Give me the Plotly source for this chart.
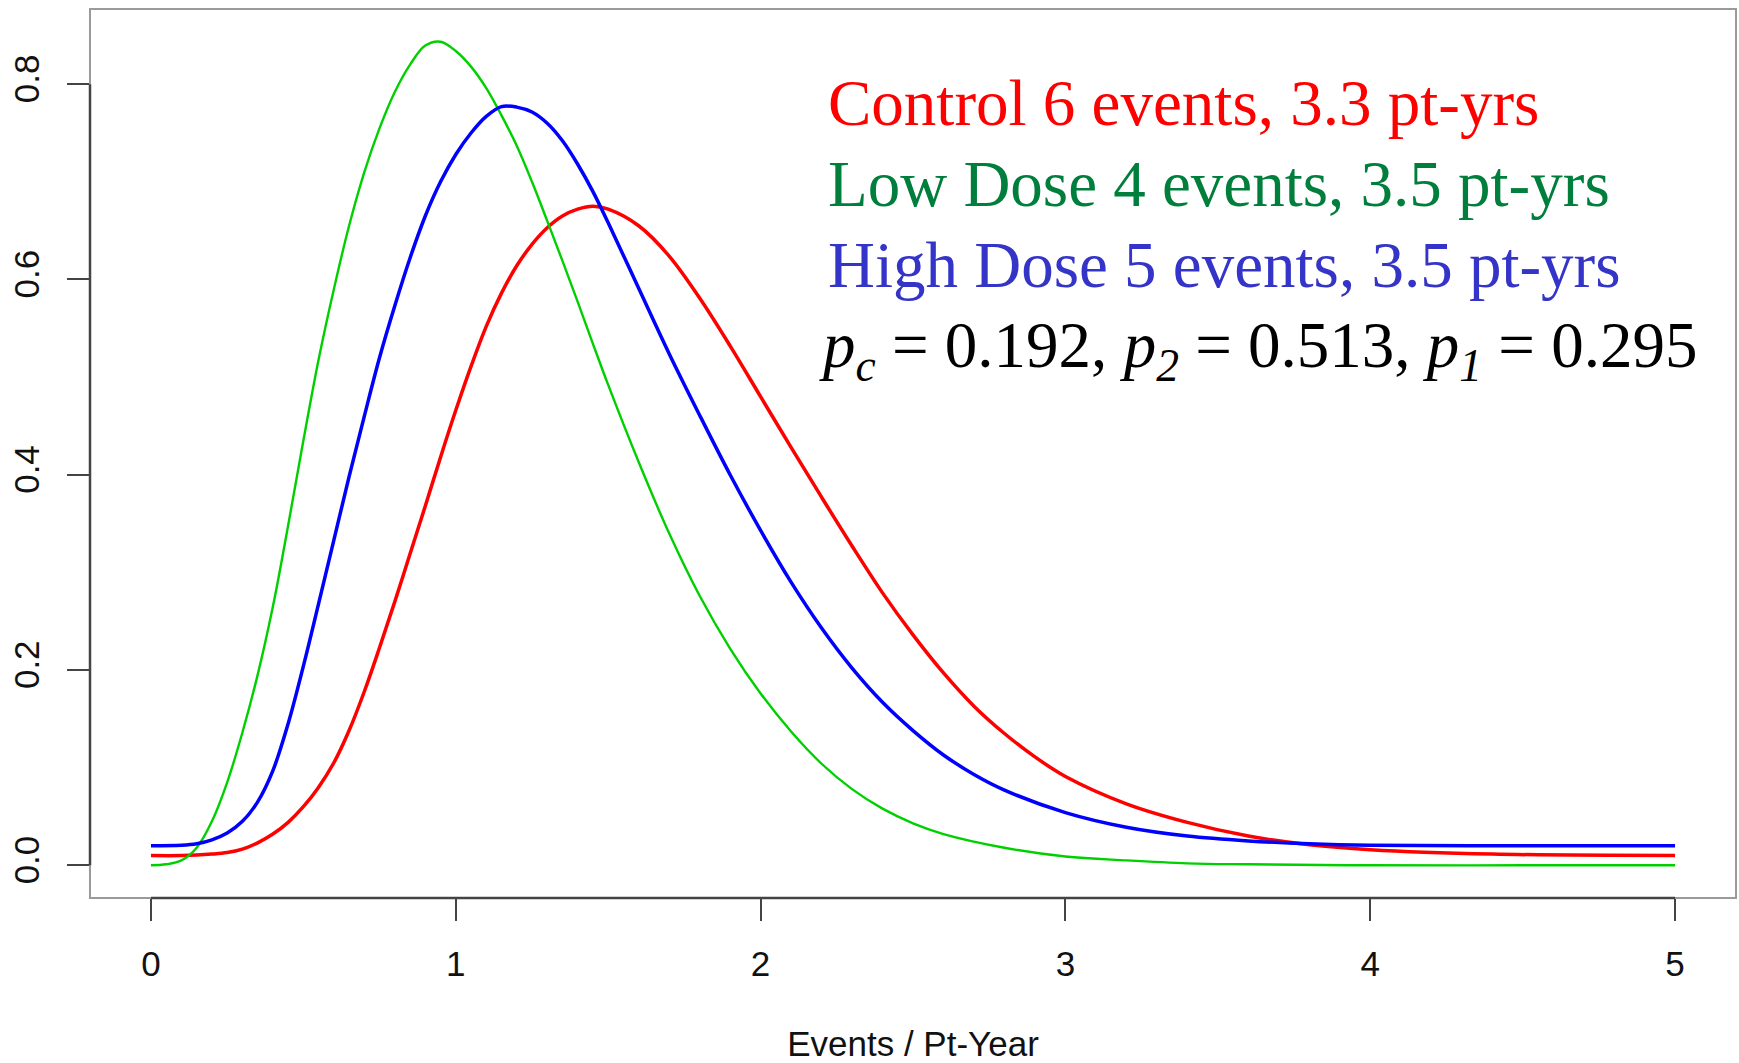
import plotly.graph_objects as go

# ---- data ----
control_x = [0, 0.1, 0.2, 0.25, 0.3, 0.35, 0.4, 0.45, 0.5, 0.55, 0.6, 0.65, 0.7, 0.75, 0.8,
             0.85, 0.9, 0.95, 1.0, 1.05, 1.1, 1.15, 1.2, 1.25, 1.3, 1.35, 1.4, 1.45, 1.5, 1.6,
             1.7, 1.8, 1.9, 2.0, 2.1, 2.2, 2.3, 2.4, 2.5, 2.6, 2.7, 2.8, 2.9, 3.0, 3.2, 3.4,
             3.6, 3.8, 4.0, 4.4, 5.0]
control_y = [0.010, 0.010, 0.0115, 0.013, 0.0165, 0.023, 0.032, 0.044, 0.060, 0.080, 0.105,
             0.138, 0.178, 0.223, 0.270, 0.319, 0.368, 0.418, 0.466, 0.511, 0.552, 0.586,
             0.614, 0.636, 0.653, 0.665, 0.672, 0.675, 0.672, 0.655, 0.624, 0.581, 0.532,
             0.480, 0.428, 0.377, 0.327, 0.279, 0.236, 0.197, 0.163, 0.135, 0.111, 0.091,
             0.063, 0.044, 0.030, 0.021, 0.016, 0.0115, 0.010]

low_x = [0, 0.05, 0.1, 0.15, 0.2, 0.25, 0.3, 0.35, 0.4, 0.45, 0.5, 0.55, 0.6, 0.65, 0.7, 0.75,
         0.8, 0.85, 0.9, 0.95, 1.0, 1.05, 1.1, 1.15, 1.2, 1.25, 1.3, 1.35, 1.4, 1.45, 1.5,
         1.6, 1.7, 1.8, 1.9, 2.0, 2.1, 2.2, 2.3, 2.4, 2.5, 2.6, 2.8, 3.0, 3.2, 3.4, 3.6, 4.0,
         4.5, 5.0]
low_y = [0.000, 0.001, 0.005, 0.018, 0.045, 0.085, 0.136, 0.195, 0.265, 0.348, 0.435, 0.518,
         0.590, 0.655, 0.710, 0.755, 0.792, 0.820, 0.8395, 0.8435, 0.834, 0.818, 0.796,
         0.768, 0.737, 0.700, 0.660, 0.619, 0.577, 0.534, 0.492, 0.413, 0.340, 0.276, 0.222,
         0.176, 0.137, 0.104, 0.078, 0.058, 0.043, 0.032, 0.018, 0.009, 0.005, 0.002, 0.001,
         0.000, 0.000, 0.000]

high_x = [0, 0.1, 0.15, 0.2, 0.25, 0.3, 0.35, 0.4, 0.45, 0.5, 0.55, 0.6, 0.65, 0.7, 0.75, 0.8,
          0.85, 0.9, 0.95, 1.0, 1.05, 1.1, 1.15, 1.2, 1.25, 1.3, 1.35, 1.4, 1.45, 1.5, 1.6,
          1.7, 1.8, 1.9, 2.0, 2.1, 2.2, 2.3, 2.4, 2.5, 2.6, 2.7, 2.8, 3.0, 3.2, 3.4, 3.6, 3.8,
          4.0, 4.5, 5.0]
high_y = [0.020, 0.0205, 0.022, 0.026, 0.033, 0.045, 0.065, 0.097, 0.145, 0.204, 0.268, 0.333,
          0.398, 0.460, 0.520, 0.573, 0.622, 0.665, 0.700, 0.728, 0.750, 0.767, 0.777, 0.7765,
          0.7715, 0.760, 0.742, 0.718, 0.690, 0.658, 0.591, 0.524, 0.461, 0.400, 0.343, 0.290,
          0.243, 0.202, 0.167, 0.138, 0.113, 0.093, 0.077, 0.054, 0.039, 0.030, 0.025, 0.022,
          0.0205, 0.020, 0.020]

x_ticks = [0, 1, 2, 3, 4, 5]
y_ticks = [0.0, 0.2, 0.4, 0.6, 0.8]
y_tick_labels = ["0.0", "0.2", "0.4", "0.6", "0.8"]

text_lines = [
    ("Control 6 events, 3.3 pt-yrs", "#ff0000"),
    ("Low Dose 4 events, 3.5 pt-yrs", "#007f3c"),
    ("High Dose 5 events, 3.5 pt-yrs", "#3434c8"),
    ("<i>p</i><sub><i>c</i></sub> = 0.192, <i>p</i><sub><i>2</i></sub> = 0.513, "
     "<i>p</i><sub><i>1</i></sub> = 0.295", "#000000"),
]
text_left_px = [826, 826, 826, 817]
text_center_px = [103, 184, 265, 350]

# ---- figure ----
W, H = 1739, 1063
ML, MR, MT, MB = 90, 3, 9, 165
PW = W - ML - MR
PH = H - MT - MB

fig = go.Figure()
fig.add_trace(go.Scatter(x=control_x, y=control_y, mode="lines",
                         line=dict(color="#ff0000", width=3.5, shape="spline", smoothing=1)))
fig.add_trace(go.Scatter(x=low_x, y=low_y, mode="lines",
                         line=dict(color="#00d000", width=2.4, shape="spline", smoothing=1)))
fig.add_trace(go.Scatter(x=high_x, y=high_y, mode="lines",
                         line=dict(color="#0000ff", width=3.5, shape="spline", smoothing=1)))

axis_font = dict(family="Liberation Sans, Arial, sans-serif", size=35, color="#111111")

fig.update_layout(
    width=W, height=H,
    margin=dict(l=ML, r=MR, t=MT, b=MB),
    paper_bgcolor="white", plot_bgcolor="white",
    showlegend=False,
    xaxis=dict(range=[-0.2, 5.2], tickvals=x_ticks, ticks="outside", ticklen=22,
               tickwidth=2, tickcolor="#444444", showline=False, showgrid=False,
               zeroline=False, tickfont=axis_font, ticklabelstandoff=13,
               title=dict(text="Events / Pt-Year", font=axis_font, standoff=50)),
    yaxis=dict(range=[-0.0335, 0.877], tickvals=y_ticks, ticktext=y_tick_labels,
               ticks="outside", ticklen=22, tickwidth=2, tickcolor="#444444",
               showline=False, showgrid=False, zeroline=False, tickfont=axis_font,
               tickangle=-90, ticklabelstandoff=14),
)

# box (lighter) and axis lines (darker) like R's base graphics
fig.add_shape(type="rect", xref="paper", yref="paper", x0=0, x1=1, y0=0, y1=1,
              line=dict(color="#9a9a9a", width=2))
fig.add_shape(type="line", xref="x", yref="paper", x0=x_ticks[0], x1=x_ticks[-1], y0=0, y1=0,
              line=dict(color="#444444", width=2.5))
fig.add_shape(type="line", xref="paper", yref="y", x0=0, x1=0, y0=y_ticks[0], y1=y_ticks[-1],
              line=dict(color="#444444", width=2.5))

for (txt, col), lx, c in zip(text_lines, text_left_px, text_center_px):
    fig.add_annotation(text=txt, xref="paper", yref="paper",
                       x=(lx - ML) / PW, y=(H - MB - c) / PH,
                       xanchor="left", yanchor="middle", showarrow=False,
                       font=dict(family="Liberation Serif, Times New Roman, serif", size=65, color=col))

fig.write_html("out.html", config={"displayModeBar": False})
